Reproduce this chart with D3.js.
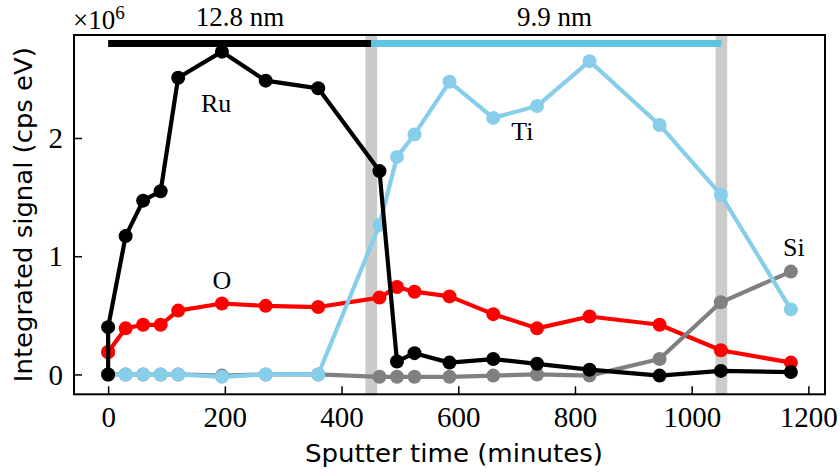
<!DOCTYPE html>
<html>
<head>
<meta charset="utf-8">
<script src="https://cdn.jsdelivr.net/npm/d3@7"></script>
<style>
  body { margin: 0; background: #ffffff; }
  svg { display: block; }
</style>
</head>
<body>
<svg id="chart" width="840" height="476"></svg>
<script>
// Sputter depth profile: integrated XPS signal per element (units of 1e6 cps eV)
const timeMin = [0, 0, 30, 60, 90, 120, 195, 270, 360, 465, 495, 525, 585, 660, 735, 825, 945, 1050, 1170];
const ruSignal = [0, 0.40, 1.17, 1.47, 1.55, 2.51, 2.73, 2.485, 2.42, 1.72, 0.11, 0.18, 0.10, 0.13, 0.09, 0.04, -0.01, 0.03, 0.02];
const oSignal = [0.19, 0.19, 0.39, 0.42, 0.42, 0.54, 0.60, 0.58, 0.57, 0.65, 0.74, 0.70, 0.66, 0.51, 0.39, 0.49, 0.42, 0.205, 0.10];
const tiSignal = [0, 0, 0, 0, 0, 0, -0.02, 0, 0, 1.265, 1.84, 2.03, 2.475, 2.17, 2.27, 2.65, 2.11, 1.52, 0.55];
const siSignal = [0, 0, 0, 0, 0, 0, -0.01, 0, 0, -0.02, -0.02, -0.02, -0.02, -0.01, 0, -0.01, 0.13, 0.61, 0.87];

const xTicks = [0, 200, 400, 600, 800, 1000, 1200];
const yTicks = [0, 1, 2];

// Layer interfaces (sputter time) and layer thickness bars
const interfaces = [451, 1051];
const layerBars = [
  { from: 0, to: 451, label: "12.8 nm", labelAt: 226, color: "#000000" },
  { from: 451, to: 1051, label: "9.9 nm", labelAt: 765, color: "#5ec4e0" }
];
const barLevel = 2.8;

const series = [
  { name: "O",  values: oSignal,  color: "#ff0000", labelX: 195, labelY: 0.72 },
  { name: "Si", values: siSignal, color: "#808080", labelX: 1175, labelY: 1.0 },
  { name: "Ti", values: tiSignal, color: "#87ceeb", labelX: 710, labelY: 1.98 },
  { name: "Ru", values: ruSignal, color: "#000000", labelX: 185, labelY: 2.22 }
];

const svg = d3.select("#chart");
const plot = { left: 74, right: 825, top: 35, bottom: 394.3 };

const x = d3.scaleLinear().domain([-58.5, 1228.5]).range([plot.left, plot.right]);
const y = d3.scaleLinear().domain([-0.168, 2.871]).range([plot.bottom, plot.top]);

const serif = "'Liberation Serif', 'DejaVu Serif', serif";
const sans = "'DejaVu Sans', 'Noto Sans', sans-serif";

// Interface bands
svg.append("g").selectAll("rect")
  .data(interfaces)
  .join("rect")
  .attr("x", d => x(d - 10))
  .attr("width", d => x(d + 10) - x(d - 10))
  .attr("y", plot.top)
  .attr("height", plot.bottom - plot.top)
  .attr("fill", "#cbcbcb");

// Thickness bars
svg.append("g").selectAll("line")
  .data(layerBars)
  .join("line")
  .attr("x1", d => x(d.from))
  .attr("x2", d => x(d.to))
  .attr("y1", y(barLevel))
  .attr("y2", y(barLevel))
  .attr("stroke", d => d.color)
  .attr("stroke-width", 7);

svg.append("g").selectAll("text")
  .data(layerBars)
  .join("text")
  .attr("x", d => x(d.labelAt))
  .attr("y", 26)
  .attr("text-anchor", "middle")
  .style("font-family", serif)
  .style("font-size", "27px")
  .text(d => d.label);

// Element profiles
const line = d3.line()
  .x((d, i) => x(timeMin[i]))
  .y(d => y(d));

const g = svg.append("g");
series.forEach(s => {
  const sg = g.append("g");
  sg.append("path")
    .attr("d", line(s.values))
    .attr("fill", "none")
    .attr("stroke", s.color)
    .attr("stroke-width", 4.2)
    .attr("stroke-linejoin", "round");
  sg.selectAll("circle")
    .data(s.values)
    .join("circle")
    .attr("cx", (d, i) => x(timeMin[i]))
    .attr("cy", d => y(d))
    .attr("r", 7)
    .attr("fill", s.color);
});

// Element labels
svg.append("g").selectAll("text")
  .data(series)
  .join("text")
  .attr("x", d => x(d.labelX))
  .attr("y", d => y(d.labelY))
  .attr("text-anchor", "middle")
  .style("font-family", serif)
  .style("font-size", "26px")
  .text(d => d.name);

// Frame
svg.append("rect")
  .attr("x", plot.left)
  .attr("y", plot.top)
  .attr("width", plot.right - plot.left)
  .attr("height", plot.bottom - plot.top)
  .attr("fill", "none")
  .attr("stroke", "#000")
  .attr("stroke-width", 2);

// Inward ticks
const xAxis = d3.axisBottom(x).tickValues(xTicks).tickSizeInner(-8).tickSizeOuter(0).tickFormat(d3.format("d"));
const xg = svg.append("g").attr("transform", `translate(0,${plot.bottom})`).call(xAxis);
xg.select(".domain").remove();
xg.selectAll(".tick line").attr("stroke", "#000").attr("stroke-width", 1.5);
xg.selectAll(".tick text")
  .style("font-family", serif)
  .style("font-size", "29px")
  .attr("fill", "#000")
  .attr("dy", null)
  .attr("y", 33);

const yAxis = d3.axisLeft(y).tickValues(yTicks).tickSizeInner(-8).tickSizeOuter(0).tickPadding(11).tickFormat(d3.format("d"));
const yg = svg.append("g").attr("transform", `translate(${plot.left},0)`).call(yAxis);
yg.select(".domain").remove();
yg.selectAll(".tick line").attr("stroke", "#000").attr("stroke-width", 1.5);
yg.selectAll(".tick text")
  .style("font-family", serif)
  .style("font-size", "29px")
  .attr("fill", "#000")
  .attr("dy", "0.33em");

// Offset multiplier
const mult = svg.append("text")
  .attr("x", plot.left - 1)
  .attr("y", 29)
  .style("font-family", serif)
  .style("font-size", "27px");
mult.append("tspan").style("font-size", "27px").text("\u00d710");
mult.append("tspan").style("font-size", "19px").attr("dy", -10).text("6");

// Axis titles
svg.append("text")
  .attr("x", 454)
  .attr("y", 462)
  .attr("text-anchor", "middle")
  .style("font-family", sans)
  .style("font-size", "25px")
  .attr("textLength", 298)
  .attr("lengthAdjust", "spacingAndGlyphs")
  .text("Sputter time (minutes)");

svg.append("text")
  .attr("transform", `translate(32,${(plot.top + plot.bottom) / 2}) rotate(-90)`)
  .attr("text-anchor", "middle")
  .style("font-family", sans)
  .style("font-size", "25px")
  .attr("textLength", 335)
  .attr("lengthAdjust", "spacingAndGlyphs")
  .text("Integrated signal (cps eV)");
</script>
</body>
</html>
